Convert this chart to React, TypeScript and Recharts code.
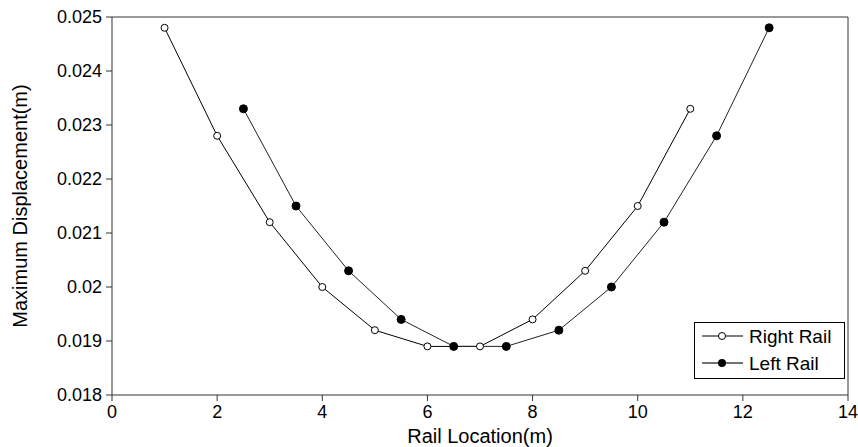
import React from "react";
import { LineChart, Line, XAxis, YAxis } from "recharts";

const rightX = [1, 2, 3, 4, 5, 6, 7, 8, 9, 10, 11];
const rightY = [0.0248, 0.0228, 0.0212, 0.02, 0.0192, 0.0189, 0.0189, 0.0194, 0.0203, 0.0215, 0.0233];
const leftX = [2.5, 3.5, 4.5, 5.5, 6.5, 7.5, 8.5, 9.5, 10.5, 11.5, 12.5];
const leftY = [0.0233, 0.0215, 0.0203, 0.0194, 0.0189, 0.0189, 0.0192, 0.02, 0.0212, 0.0228, 0.0248];
const xTicks = [0, 2, 4, 6, 8, 10, 12, 14];
const yTicks = [0.018, 0.019, 0.02, 0.021, 0.022, 0.023, 0.024, 0.025];

// merged table, one row per x location
const allX = Array.from(new Set([...rightX, ...leftX])).sort((a, b) => a - b);
const table = allX.map((x) => {
  const ri = rightX.indexOf(x);
  const li = leftX.indexOf(x);
  return { x, right: ri >= 0 ? rightY[ri] : null, left: li >= 0 ? leftY[li] : null };
});

const FONT = "'Liberation Sans', Arial, sans-serif";
const AXIS = "#333";

const fmtY = (v: number) => String(Number(v.toFixed(3)));

export default function App() {
  return (
    <div style={{ position: "absolute", left: 0, top: 0, width: 858, height: 447, fontFamily: FONT }}>
      <LineChart width={858} height={447} data={table} margin={{ top: 17, right: 10, bottom: 0, left: 12 }}>
        <XAxis
          dataKey="x"
          type="number"
          domain={[0, 14]}
          ticks={xTicks}
          interval={0}
          height={52}
          stroke={AXIS}
          tickSize={6}
          tickMargin={4}
          tick={{ fontSize: 18, fill: "#000", fontFamily: FONT }}
          label={{ value: "Rail Location(m)", position: "insideBottom", offset: 4, fontSize: 20, fill: "#000", fontFamily: FONT }}
        />
        <XAxis
          xAxisId="top"
          orientation="top"
          dataKey="x"
          type="number"
          domain={[0, 14]}
          ticks={xTicks}
          interval={0}
          height={30}
          stroke={AXIS}
          tick={false}
          mirror
        />
        <YAxis
          type="number"
          domain={[0.018, 0.025]}
          ticks={yTicks}
          interval={0}
          width={100}
          stroke={AXIS}
          tickSize={6}
          tickMargin={4}
          tickFormatter={fmtY}
          tick={{ fontSize: 18, fill: "#000", fontFamily: FONT }}
          label={{
            value: "Maximum Displacement(m)",
            angle: -90,
            position: "insideLeft",
            offset: 8,
            fontSize: 20,
            fill: "#000",
            fontFamily: FONT,
            style: { textAnchor: "middle" },
          }}
        />
        <YAxis
          yAxisId="right"
          orientation="right"
          type="number"
          domain={[0.018, 0.025]}
          ticks={yTicks}
          interval={0}
          width={60}
          stroke={AXIS}
          tick={false}
          mirror
        />
        <Line
          dataKey="right"
          type="linear"
          stroke="#000"
          strokeWidth={1}
          connectNulls
          isAnimationActive={false}
          dot={{ r: 3.5, fill: "#fff", stroke: "#000", strokeWidth: 1 }}
        />
        <Line
          dataKey="left"
          type="linear"
          stroke="#222"
          strokeWidth={1}
          connectNulls
          isAnimationActive={false}
          dot={{ r: 4, fill: "#000", stroke: "#000", strokeWidth: 1 }}
        />
      </LineChart>
      <div
        style={{
          position: "absolute",
          left: 694,
          top: 322,
          width: 151,
          height: 57,
          border: "1px solid #000",
          background: "#fff",
          boxSizing: "border-box",
        }}
      >
        <svg width={151} height={57} style={{ position: "absolute", left: -1, top: -1 }}>
          <line x1={8} x2={49} y1={14} y2={14} stroke="#000" />
          <circle cx={28} cy={14} r={3.5} fill="#fff" stroke="#000" />
          <text x={55} y={14} dy="0.36em" fontSize={19} fontFamily={FONT}>Right Rail</text>
          <line x1={8} x2={49} y1={41} y2={41} stroke="#444" strokeWidth={1.5} />
          <circle cx={28} cy={41} r={4} fill="#000" />
          <text x={55} y={41} dy="0.36em" fontSize={19} fontFamily={FONT}>Left Rail</text>
        </svg>
      </div>
    </div>
  );
}
